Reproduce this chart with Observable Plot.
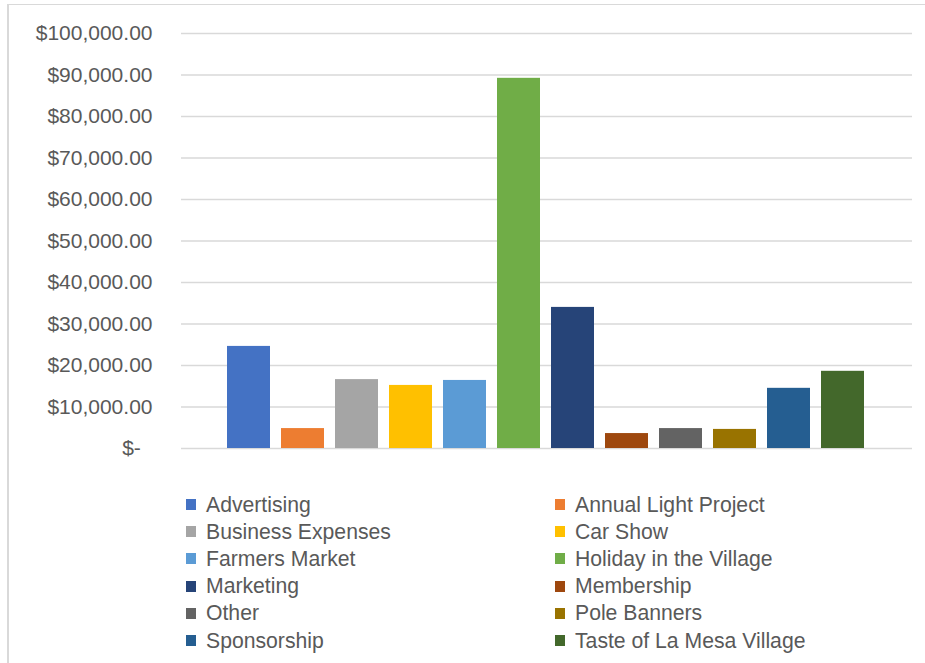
<!DOCTYPE html>
<html>
<head>
<meta charset="utf-8">
<script src="https://cdn.jsdelivr.net/npm/d3@7"></script>
<script src="https://cdn.jsdelivr.net/npm/@observablehq/plot@0.6"></script>
<style>
  html, body { margin: 0; padding: 0; background: #fff; }
  #wrap { position: relative; width: 925px; height: 663px; overflow: hidden; font-family: "Liberation Sans", Arial, sans-serif; }
  #frame { position: absolute; left: 7px; top: 4px; width: 940px; height: 680px; border-left: 2px solid #d9d9d9; border-top: 1px solid #d9d9d9; box-sizing: border-box; }
  #chart { position: absolute; left: 0; top: 0; }
  #legend { position: absolute; left: 186px; top: 491px; display: grid; grid-template-columns: 369px 320px; grid-auto-rows: 27.2px; font-size: 21.2px; color: #595959; }
  .item { display: flex; align-items: center; white-space: nowrap; }
  .sw { width: 10px; height: 11px; margin-right: 10px; flex: none; }
</style>
</head>
<body>
<div id="wrap">
  <div id="frame"></div>
  <div id="chart"></div>
  <div id="legend"></div>
</div>
<script>
const categories = ["Advertising", "Annual Light Project", "Business Expenses", "Car Show", "Farmers Market", "Holiday in the Village", "Marketing", "Membership", "Other", "Pole Banners", "Sponsorship", "Taste of La Mesa Village"];
const values = [24600, 4800, 16600, 15200, 16400, 89200, 34000, 3600, 4800, 4600, 14500, 18600];
const colors = ["#4472C4", "#ED7D31", "#A5A5A5", "#FFC000", "#5B9BD5", "#70AD47", "#264478", "#9E480E", "#636363", "#997300", "#255E91", "#43682B"];
const yTicks = [0, 10000, 20000, 30000, 40000, 50000, 60000, 70000, 80000, 90000, 100000];

const data = categories.map((c, i) => ({category: c, value: values[i]}));
const fmt = d3.format(",.2f");

const chart = Plot.plot({
  width: 925,
  height: 470,
  marginTop: 33,
  marginBottom: 22,
  marginLeft: 181,
  marginRight: 13,
  style: {fontFamily: "'Liberation Sans', Arial, sans-serif", fontSize: "21px", color: "#595959", background: "transparent", overflow: "visible"},
  x: {domain: categories, range: [227, 865], paddingInner: 0.2, paddingOuter: 0, axis: null},
  y: {domain: [0, 100000]},
  color: {domain: categories, range: colors},
  marks: [
    Plot.ruleY(yTicks, {stroke: "#d9d9d9", strokeWidth: 1.5}),
    Plot.barY(data, {x: "category", y: "value", fill: "category"}),
    Plot.axisY(yTicks, {tickSize: 0, tickPadding: 29, label: null,
      tickFormat: d => d === 0 ? "$-\u00a0\u00a0" : "$" + fmt(d)})
  ]
});
document.getElementById("chart").appendChild(chart);

const legend = document.getElementById("legend");
categories.forEach((c, i) => {
  const item = document.createElement("div");
  item.className = "item";
  const sw = document.createElement("span");
  sw.className = "sw";
  sw.style.background = colors[i];
  const t = document.createElement("span");
  t.textContent = c;
  item.appendChild(sw);
  item.appendChild(t);
  legend.appendChild(item);
});
</script>
</body>
</html>
